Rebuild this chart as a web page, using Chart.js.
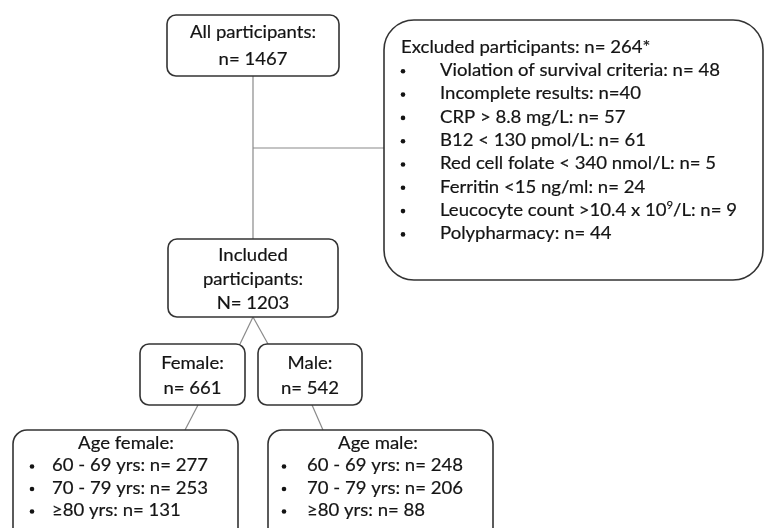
<!DOCTYPE html>
<html><head><meta charset="utf-8">
<script src="https://cdn.jsdelivr.net/npm/chart.js@4/dist/chart.umd.min.js"></script>
<style>html,body{margin:0;padding:0;background:#fff}#wrap{width:765px;height:528px;position:relative}</style>
</head><body><div id="wrap"><canvas id="c"></canvas></div>
<script>
// ---- content (values) ----
const totalLabel = ["All participants:", "n= 1467"];
const excludedTitle = "Excluded participants: n= 264*";
const excludedItems = [
  "Violation of survival criteria: n= 48",
  "Incomplete results: n=40",
  "CRP > 8.8 mg/L: n= 57",
  "B12 < 130 pmol/L: n= 61",
  "Red cell folate < 340 nmol/L: n= 5",
  "Ferritin <15 ng/ml: n= 24",
  "Leucocyte count >10.4 x 10^9/L: n= 9",
  "Polypharmacy: n= 44"
];
const includedLabel = ["Included", "participants:", "N= 1203"];
const femaleLabel = ["Female:", "n= 661"];
const maleLabel = ["Male:", "n= 542"];
const ageFemaleTitle = "Age female:";
const ageFemaleItems = ["60 - 69 yrs: n= 277", "70 - 79 yrs: n= 253", "\u226580 yrs: n= 131"];
const ageMaleTitle = "Age male:";
const ageMaleItems = ["60 - 69 yrs: n= 248", "70 - 79 yrs: n= 206", "\u226580 yrs: n= 88"];

// ---- layout (positions in scale units) ----
const boxes = [
  {x:167, y:15,  w:172, h:61,  r:9,  center:totalLabel, cy:[32,59]},
  {x:384, y:20,  w:379, h:260, r:30, title:excludedTitle, items:excludedItems, tx:401, bx:403, ix:440, ty:47, dy:23.3, titleLeft:true},
  {x:168, y:239, w:170, h:78,  r:9,  center:includedLabel, cy:[255,279,303]},
  {x:140, y:344, w:105, h:61,  r:9,  center:femaleLabel, cy:[363,388]},
  {x:258, y:344, w:104, h:61,  r:9,  center:maleLabel, cy:[363,388]},
  {x:13,  y:430, w:225, h:118, r:14, title:ageFemaleTitle, items:ageFemaleItems, tcx:126, bx:32, ix:52, ty:443, dy:22.5},
  {x:268, y:430, w:225, h:118, r:14, title:ageMaleTitle, items:ageMaleItems, tcx:378, bx:284, ix:307, ty:443, dy:22.5}
];
const connectors = [
  [[253,76],[253,239]],
  [[253,148],[384,148]],
  [[253,317],[240,344]],
  [[253,317],[268,344]],
  [[198,405],[185,430]],
  [[312,405],[323,430]]
];

const FONT_SIZE = 18;
const FONT_FAMILY = 'Lato, "Open Sans", sans-serif';
const SX = 1.03;
const TEXT = '#141414';

function parts(t) {
  const out = [];
  const re = /\^(\d+)/g;
  let last = 0, m;
  while ((m = re.exec(t))) {
    if (m.index > last) out.push({t: t.slice(last, m.index), sup: false});
    out.push({t: m[1], sup: true});
    last = m.index + m[0].length;
  }
  if (last < t.length) out.push({t: t.slice(last), sup: false});
  return out;
}
function drawText(ctx, t, x, y, align) {
  const segs = parts(t);
  const fN = FONT_SIZE + 'px ' + FONT_FAMILY;
  const fS = Math.round(FONT_SIZE * 0.62) + 'px ' + FONT_FAMILY;
  let total = 0;
  segs.forEach(s => { ctx.font = s.sup ? fS : fN; s.w = ctx.measureText(s.t).width; total += s.w; });
  ctx.save();
  ctx.translate(x, y);
  ctx.scale(SX, 1);
  let cx = align === 'center' ? -total / 2 : 0;
  ctx.textAlign = 'left';
  ctx.textBaseline = 'middle';
  ctx.lineWidth = 0.2;
  ctx.strokeStyle = TEXT;
  segs.forEach(s => {
    ctx.font = s.sup ? fS : fN;
    const yy = s.sup ? -5 : 0;
    ctx.fillText(s.t, cx, yy);
    ctx.strokeText(s.t, cx, yy);
    cx += s.w;
  });
  ctx.restore();
}

const boxPlugin = {
  id: 'boxes',
  afterDatasetsDraw(chart) {
    const ctx = chart.ctx, xs = chart.scales.x, ys = chart.scales.y;
    const px = v => xs.getPixelForValue(v), py = v => ys.getPixelForValue(v);
    ctx.save();
    boxes.forEach(b => {
      const x0 = px(b.x), y0 = py(b.y), x1 = px(b.x + b.w), y1 = py(b.y + b.h);
      ctx.beginPath();
      ctx.roundRect(x0, y0, x1 - x0, y1 - y0, b.r);
      ctx.fillStyle = '#fff';
      ctx.fill();
      ctx.lineWidth = 1.6;
      ctx.strokeStyle = '#333';
      ctx.stroke();
      ctx.fillStyle = TEXT;
      if (b.center) {
        b.center.forEach((t, i) => drawText(ctx, t, px(b.x + b.w / 2), py(b.cy[i]), 'center'));
      } else {
        if (b.titleLeft) drawText(ctx, b.title, px(b.tx), py(b.ty), 'left');
        else drawText(ctx, b.title, px(b.tcx), py(b.ty), 'center');
        b.items.forEach((t, i) => {
          const yy = py(b.ty + b.dy * (i + 1));
          ctx.beginPath();
          ctx.arc(px(b.bx), yy + 1, 2.3, 0, Math.PI * 2);
          ctx.fillStyle = TEXT;
          ctx.fill();
          drawText(ctx, t, px(b.ix), yy, 'left');
        });
      }
    });
    ctx.restore();
  }
};

new Chart(document.getElementById('c'), {
  type: 'scatter',
  data: {
    datasets: connectors.map(seg => ({
      data: seg.map(p => ({x: p[0], y: p[1]})),
      showLine: true,
      borderColor: '#8a8a8a',
      borderWidth: 1.2,
      pointRadius: 0,
      fill: false
    }))
  },
  options: {
    responsive: true,
    maintainAspectRatio: false,
    animation: false,
    layout: {padding: 0},
    plugins: {legend: {display: false}, tooltip: {enabled: false}},
    scales: {
      x: {type: 'linear', min: 0, max: 765, display: false},
      y: {type: 'linear', min: 0, max: 528, reverse: true, display: false}
    }
  },
  plugins: [boxPlugin]
});
</script>
</body></html>
